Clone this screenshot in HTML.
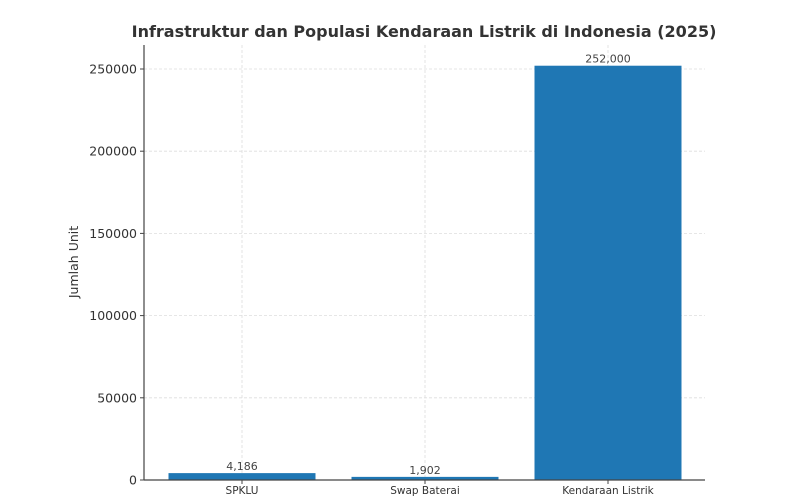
<!DOCTYPE html>
<html><head><meta charset="utf-8"><style>
html,body{margin:0;padding:0;background:#fff;}
svg{display:block;font-family:"DejaVu Sans","Liberation Sans",sans-serif;}
</style></head><body>
<svg id="chart" width="800" height="502" viewBox="0 0 800 502">
<text x="424" y="37" text-anchor="middle" font-size="16" font-weight="bold" fill="#333">Infrastruktur dan Populasi Kendaraan Listrik di Indonesia (2025)</text>
<text transform="translate(78,262) rotate(-90)" text-anchor="middle" font-size="12.5" fill="#333">Jumlah Unit</text>
<g id="grid"></g><g id="bars"></g><g id="axes"></g>
</svg>
<script>
const categories = ["SPKLU", "Swap Baterai", "Kendaraan Listrik"];
const values = [4186, 1902, 252000];
const valueLabels = ["4,186", "1,902", "252,000"];
const yTicks = [0, 50000, 100000, 150000, 200000, 250000];

(function(){
const NS = "http://www.w3.org/2000/svg";
const plotLeft = 144, plotRight = 705, plotTop = 45, plotBottom = 480;
function y(v){ return plotBottom - v / 250000 * 411; }
const step = 183, firstCenter = 242, barW = 147;
function x(i){ return firstCenter + i * step; }
function mk(tag, attrs, parent, text){
  const el = document.createElementNS(NS, tag);
  for (const k in attrs) el.setAttribute(k, attrs[k]);
  if (text !== undefined) el.textContent = text;
  parent.appendChild(el);
  return el;
}
const grid = document.getElementById("grid"), bars = document.getElementById("bars"), axes = document.getElementById("axes");
yTicks.forEach(t => {
  const gl = mk("line", {x1: plotLeft, x2: plotRight, y1: y(t), y2: y(t), stroke: "#ddd", "stroke-dasharray": "3,2", "stroke-width": 0.8}, grid);
  
  
  const tk = mk("line", {x1: plotLeft - 4, x2: plotLeft, y1: y(t), y2: y(t), stroke: "#444"}, axes);
  
  
  const lb = mk("text", {x: plotLeft - 7, y: y(t) + 4.5, "text-anchor": "end", "font-size": 12.5, fill: "#333"}, axes, String(t));
  
  
});
categories.forEach((c, i) => {
  const gl = mk("line", {x1: x(i), x2: x(i), y1: plotTop, y2: plotBottom, stroke: "#ddd", "stroke-dasharray": "3,2", "stroke-width": 0.8}, grid);
  
  
  const b = mk("rect", {x: x(i) - barW / 2, y: y(values[i]), width: barW, height: plotBottom - y(values[i]), fill: "#1f77b4"}, bars);
  
  
  const v = mk("text", {x: x(i), y: y(values[i]) - 3, "text-anchor": "middle", "font-size": 11, fill: "#444"}, bars, valueLabels[i]);
  
  
  const tk = mk("line", {x1: x(i), x2: x(i), y1: plotBottom, y2: plotBottom + 4, stroke: "#444"}, axes);
  
  
  const cl = mk("text", {x: x(i), y: plotBottom + 14, "text-anchor": "middle", "font-size": 10.5, fill: "#333"}, axes, c);
  
  
});
const ya = mk("line", {x1: plotLeft, x2: plotLeft, y1: plotTop, y2: plotBottom, stroke: "#444", "stroke-width": 1.2}, axes);


const xa = mk("line", {x1: plotLeft, x2: plotRight, y1: plotBottom, y2: plotBottom, stroke: "#444", "stroke-width": 1.2}, axes);


})();
</script>
</body></html>
